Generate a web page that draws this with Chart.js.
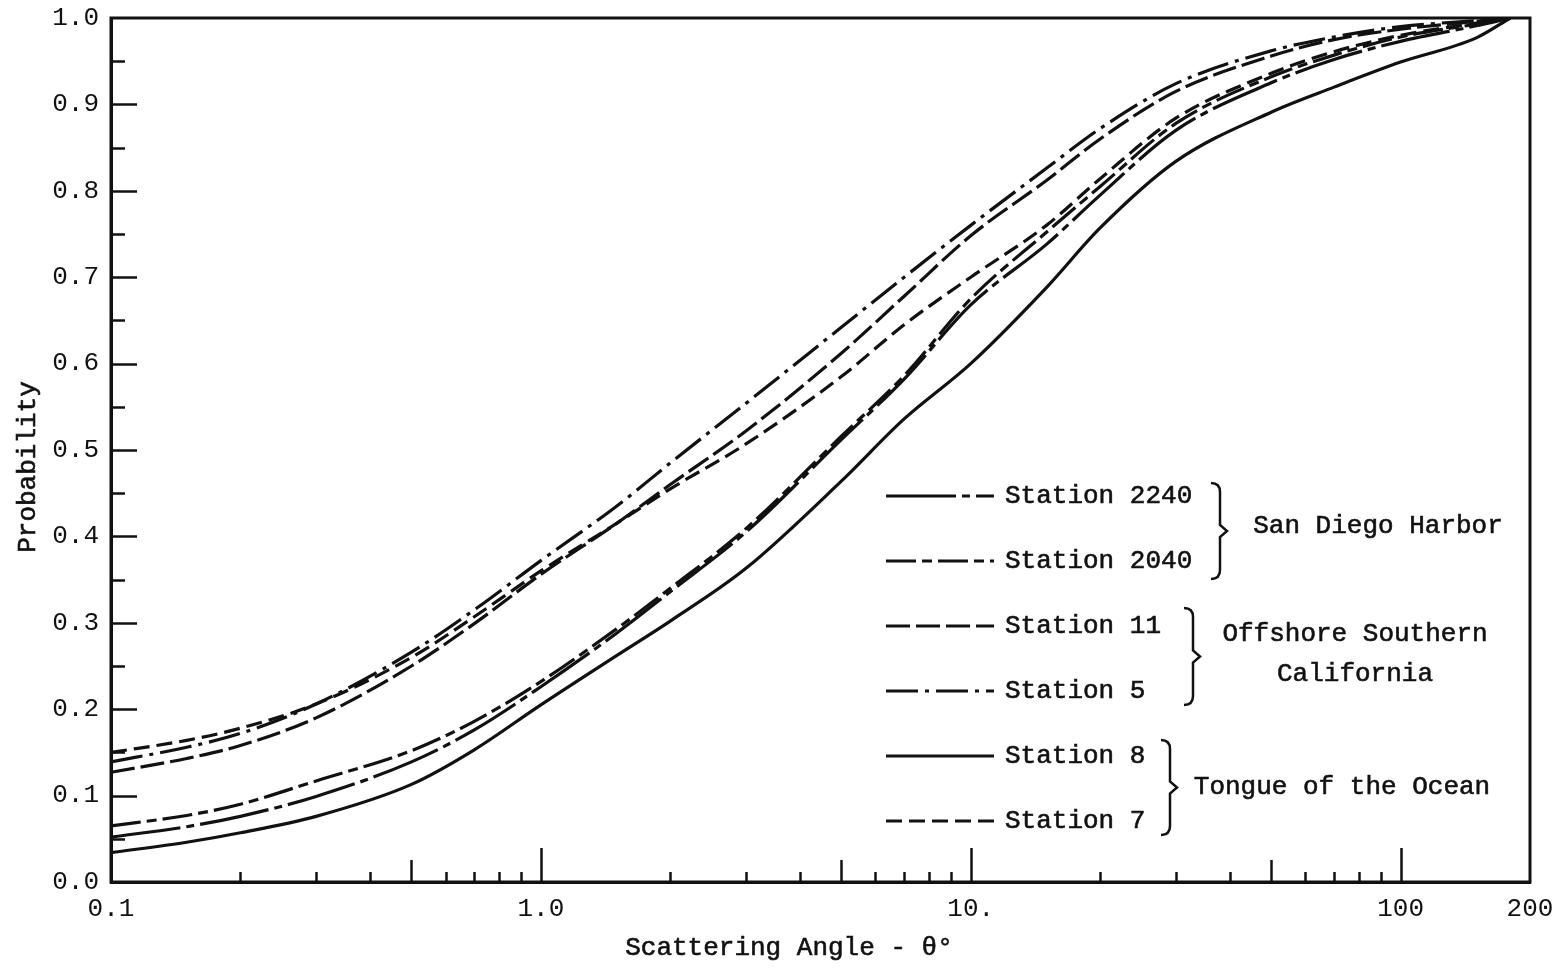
<!DOCTYPE html>
<html>
<head>
<meta charset="utf-8">
<script src="https://cdn.jsdelivr.net/npm/chart.js@4.4.0/dist/chart.umd.min.js"></script>
<style>
  html, body { margin: 0; padding: 0; background: #fff; }
  #wrap { width: 1566px; height: 969px; }
</style>
</head>
<body>
<div id="wrap"><canvas id="myChart" width="1566" height="969"></canvas></div>
<script>
// scattering angle (degrees) where each curve is sampled
const angles = [0.1, 0.15, 0.2, 0.3, 0.5, 0.7, 1, 1.5, 2, 3, 5, 7, 10, 15, 20, 30, 50, 70, 100, 150, 180];

// cumulative probability per station
const station2240 = [0.052, 0.064, 0.076, 0.099, 0.139, 0.176, 0.226, 0.288, 0.336, 0.405, 0.512, 0.582, 0.668, 0.738, 0.795, 0.870, 0.925, 0.952, 0.973, 0.991, 1.0];
const station2040 = [0.065, 0.077, 0.090, 0.117, 0.152, 0.186, 0.232, 0.293, 0.340, 0.409, 0.516, 0.586, 0.675, 0.752, 0.805, 0.878, 0.932, 0.957, 0.978, 0.993, 1.0];
const station11 = [0.127, 0.143, 0.158, 0.190, 0.250, 0.299, 0.356, 0.415, 0.460, 0.522, 0.612, 0.678, 0.748, 0.812, 0.860, 0.915, 0.956, 0.975, 0.987, 0.996, 1.0];
const station5 = [0.139, 0.156, 0.172, 0.206, 0.266, 0.315, 0.372, 0.435, 0.485, 0.554, 0.642, 0.700, 0.760, 0.826, 0.872, 0.924, 0.962, 0.978, 0.990, 0.997, 1.0];
const station8 = [0.034, 0.046, 0.057, 0.076, 0.113, 0.153, 0.205, 0.262, 0.302, 0.363, 0.464, 0.536, 0.600, 0.688, 0.757, 0.834, 0.891, 0.920, 0.949, 0.977, 1.0];
const station7 = [0.150, 0.164, 0.178, 0.206, 0.260, 0.307, 0.360, 0.415, 0.455, 0.507, 0.585, 0.645, 0.700, 0.760, 0.814, 0.884, 0.936, 0.961, 0.980, 0.994, 1.0];

const stationNames = ["Station 2240", "Station 2040", "Station 11", "Station 5", "Station 8", "Station 7"];
const stationValues = [station2240, station2040, station11, station5, station8, station7];
const groupLabels = [["San Diego Harbor"], ["Offshore Southern", "California"], ["Tongue of the Ocean"]];

const xTickValues = [0.1, 1, 10, 100, 200];
const xTickLabels = ["0.1", "1.0", "10.", "100", "200"];
const yTickValues = [0, 0.1, 0.2, 0.3, 0.4, 0.5, 0.6, 0.7, 0.8, 0.9, 1.0];

const INK = "#111";
const FONT = '"Liberation Mono", "Courier New", monospace';

// line pattern for each station, same order as stationNames
const dashes = [
  [70, 6, 8, 6],
  [30, 6, 10, 6],
  [24, 6],
  [32, 7, 4, 7],
  [],
  [16, 7],
];

const datasets = stationNames.map((name, i) => ({
  label: name,
  data: angles.map((a, j) => ({ x: a, y: stationValues[i][j] })),
  borderColor: INK,
  borderWidth: 3.2,
  borderDash: dashes[i],
  borderCapStyle: "butt",
  pointRadius: 0,
  fill: false,
  cubicInterpolationMode: "monotone",
}));

// box, inward tick marks, legend with braces, axis titles
const decorations = {
  id: "decorations",
  afterDraw(chart) {
    const { ctx, chartArea: a, scales: { x, y } } = chart;
    ctx.save();
    ctx.strokeStyle = INK;
    ctx.fillStyle = INK;
    ctx.lineWidth = 3;
    ctx.strokeRect(a.left, a.top, a.right - a.left, a.bottom - a.top);

    // y ticks: long at tenths, short at twentieths
    ctx.lineWidth = 2.5;
    for (let k = 1; k < 20; k++) {
      const py = Math.round(y.getPixelForValue(k / 20)) + 0.5;
      const len = k % 2 === 0 ? 26 : 14;
      ctx.beginPath();
      ctx.moveTo(a.left, py);
      ctx.lineTo(a.left + len, py);
      ctx.stroke();
    }

    // x ticks: decades long, fives medium, the rest short
    for (const dec of [0.1, 1, 10]) {
      for (let m = 2; m <= 10; m++) {
        const v = dec * m;
        const px = Math.round(x.getPixelForValue(v)) + 0.5;
        const len = m === 10 ? 34 : m === 5 ? 22 : 10;
        ctx.beginPath();
        ctx.moveTo(px, a.bottom);
        ctx.lineTo(px, a.bottom - len);
        ctx.stroke();
      }
    }

    // legend rows
    const rowY = [496, 561, 626, 691, 756, 821];
    ctx.font = "26px " + FONT;
    ctx.textBaseline = "middle";
    ctx.textAlign = "left";
    ctx.lineWidth = 0.6;
    chart.data.datasets.forEach((ds, i) => {
      ctx.save();
      ctx.lineWidth = 3.2;
      ctx.setLineDash(ds.borderDash || []);
      ctx.beginPath();
      ctx.moveTo(886, rowY[i]);
      ctx.lineTo(994, rowY[i]);
      ctx.stroke();
      ctx.restore();
      ctx.fillText(ds.label, 1005, rowY[i]);
      ctx.strokeText(ds.label, 1005, rowY[i]);
    });

    // braces grouping the stations
    const brace = (bx, top, bottom) => {
      const mid = (top + bottom) / 2;
      ctx.lineWidth = 2.5;
      ctx.beginPath();
      ctx.moveTo(bx - 9, top);
      ctx.quadraticCurveTo(bx, top, bx, top + 9);
      ctx.lineTo(bx, mid - 6);
      ctx.lineTo(bx + 7, mid);
      ctx.lineTo(bx, mid + 6);
      ctx.lineTo(bx, bottom - 9);
      ctx.quadraticCurveTo(bx, bottom, bx - 9, bottom);
      ctx.stroke();
    };
    brace(1220, 483, 579);
    brace(1193, 608, 705);
    brace(1170, 740, 835);

    const label = (t, lx, ly) => {
      ctx.lineWidth = 0.6;
      ctx.fillText(t, lx, ly);
      ctx.strokeText(t, lx, ly);
    };
    ctx.textAlign = "center";
    label(groupLabels[0][0], 1378, 526);
    label(groupLabels[1][0], 1355, 634);
    label(groupLabels[1][1], 1355, 674);
    label(groupLabels[2][0], 1342, 787);

    // axis titles
    label("Scattering Angle - \u03b8\u00b0", 789, 948);
    ctx.translate(28, 467);
    ctx.rotate(-Math.PI / 2);
    label("Probability", 0, 0);
    ctx.restore();
  },
};

const chart = new Chart(document.getElementById("myChart"), {
  type: "line",
  data: { datasets },
  options: {
    responsive: false,
    animation: false,
    devicePixelRatio: 1,
    layout: { padding: { top: 18, right: 36, left: 0, bottom: 0 } },
    plugins: {
      legend: { display: false },
      tooltip: { enabled: false },
    },
    scales: {
      x: {
        type: "logarithmic",
        position: "bottom",
        min: 0.1,
        max: 200,
        grid: { display: false, drawTicks: false },
        border: { display: true, color: INK, width: 3 },
        afterBuildTicks: (s) => {
          s.ticks = xTickValues.map((v) => ({ value: v }));
        },
        afterFit: (s) => {
          s.height = 87;
          s.paddingLeft = 0;
          s.paddingRight = 0;
        },
        ticks: {
          autoSkip: false,
          maxRotation: 0,
          padding: 12,
          color: INK,
          font: { family: FONT, size: 26 },
          callback: (v) => {
            const i = xTickValues.indexOf(v);
            return i >= 0 ? xTickLabels[i] : "";
          },
        },
      },
      y: {
        type: "linear",
        min: 0,
        max: 1,
        grid: { display: false, drawTicks: false },
        border: { display: true, color: INK, width: 3 },
        afterBuildTicks: (s) => {
          s.ticks = yTickValues.map((v) => ({ value: v }));
        },
        afterFit: (s) => {
          s.width = 111;
          s.paddingTop = 0;
          s.paddingBottom = 0;
        },
        ticks: {
          padding: 12,
          color: INK,
          font: { family: FONT, size: 26 },
          callback: (v) => v.toFixed(1),
        },
      },
    },
  },
  plugins: [decorations],
});
</script>
</body>
</html>
